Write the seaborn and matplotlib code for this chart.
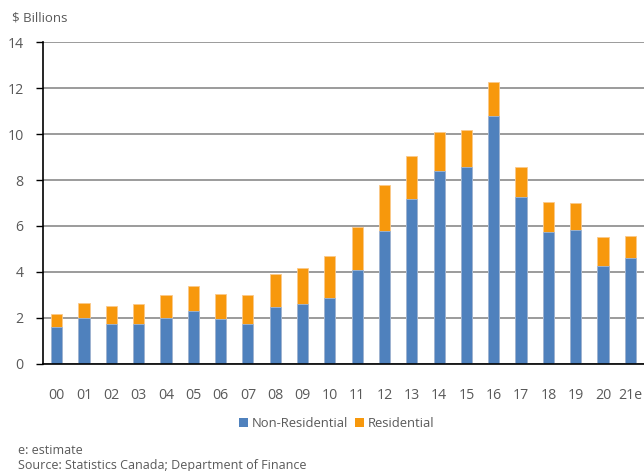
import matplotlib
matplotlib.use("Agg")
import matplotlib.pyplot as plt
import seaborn as sns
import pandas as pd
from matplotlib.patches import Patch

years = ["00", "01", "02", "03", "04", "05", "06", "07", "08", "09", "10",
         "11", "12", "13", "14", "15", "16", "17", "18", "19", "20", "21e"]
non_residential = [1.61, 2.01, 1.75, 1.72, 2.01, 2.32, 1.94, 1.72, 2.46, 2.62, 2.88,
                   4.09, 5.78, 7.17, 8.41, 8.58, 10.80, 7.25, 5.75, 5.81, 4.28, 4.62]
residential = [0.56, 0.63, 0.77, 0.87, 1.00, 1.07, 1.10, 1.27, 1.44, 1.54, 1.80,
               1.85, 1.99, 1.86, 1.69, 1.58, 1.45, 1.30, 1.28, 1.18, 1.23, 0.95]
y_ticks = [0, 2, 4, 6, 8, 10, 12, 14]

BLUE = "#4F81BD"
ORANGE = "#F7980C"
TEXT = "#595959"

sns.set_theme(style="white")
plt.rcParams["font.family"] = ["Open Sans", "DejaVu Sans"]

df = pd.DataFrame({"year": years, "nonres": non_residential, "res": residential})
df["total"] = df["nonres"] + df["res"]

fig = plt.figure(figsize=(6.44, 4.71), dpi=100)
ax = fig.add_axes([0.0668, 0.2272, 0.9332, 0.6836])

# stacked bars: full height in orange, non-residential part in blue on top
sns.barplot(data=df, x="year", y="total", color=ORANGE, saturation=1,
            width=0.41, edgecolor="#FBC98A", linewidth=0.6, ax=ax, zorder=3)
sns.barplot(data=df, x="year", y="nonres", color=BLUE, saturation=1,
            width=0.41, edgecolor="#9DB7DA", linewidth=0.6, ax=ax, zorder=4)

ax.set_xlim(-0.5, len(years) - 0.5)
ax.set_ylim(0, 14)
ax.set_yticks(y_ticks)
ax.set_xlabel("")
ax.set_ylabel("")
ax.yaxis.grid(True, color="#808080", linewidth=1.1, zorder=0)
ax.set_axisbelow(True)

for side in ["top", "right"]:
    ax.spines[side].set_visible(False)
for side in ["left", "bottom"]:
    ax.spines[side].set_color("black")
    ax.spines[side].set_linewidth(1.2)
    ax.spines[side].set_zorder(5)

ax.tick_params(axis="y", which="major", left=True, length=5, width=1,
               color="black", pad=9, labelsize=10.2, labelcolor=TEXT)
ax.tick_params(axis="x", which="major", bottom=False, pad=11,
               labelsize=10.2, labelcolor=TEXT)

fig.text(0.018, 0.962, "$ Billions", fontsize=9.5, color=TEXT, ha="left", va="center")

handles = [Patch(facecolor=BLUE, edgecolor="none"),
           Patch(facecolor=ORANGE, edgecolor="none")]
fig.legend(handles, ["Non-Residential", "Residential"], loc="center",
           bbox_to_anchor=(0.523, 0.101), ncol=2, frameon=False,
           fontsize=9.4, labelcolor=TEXT, handlelength=0.7, handleheight=0.7,
           handletextpad=0.3, columnspacing=0.5)

fig.text(0.028, 0.044, "e: estimate", fontsize=9, color=TEXT, ha="left", va="center")
fig.text(0.028, 0.012, "Source: Statistics Canada; Department of Finance", fontsize=9,
         color=TEXT, ha="left", va="center")

fig.savefig("out.png", dpi=100)
